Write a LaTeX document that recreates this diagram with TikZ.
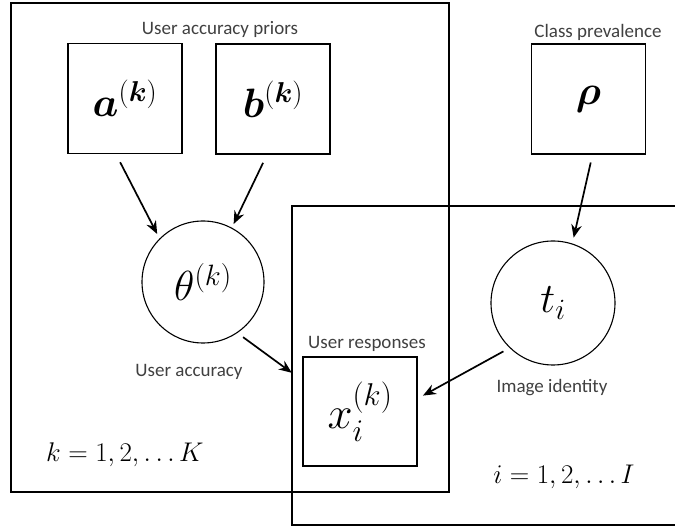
\RequirePackage{fix-cm}
\documentclass[tikz,border=0pt]{standalone}
\usepackage{amsmath,amssymb}
\usepackage{bm}
\usepackage{fontspec}
\setmainfont{Carlito}
\usepackage{tikz}
\usetikzlibrary{arrows,arrows.meta}
\definecolor{labelgray}{HTML}{404040}
\tikzset{
	plate/.style={draw,line width=1.8pt},
	prior node/.style={rectangle,draw,line width=1.4pt,minimum width=114pt,minimum height=110pt,font=\fontsize{41}{46}\selectfont},
	latent node/.style={circle,draw,line width=1.1pt,minimum size=122pt,font=\fontsize{42}{46}\selectfont},
	caption/.style={text=labelgray,font=\fontsize{19}{22}\selectfont,inner sep=0pt},
	index/.style={font=\fontsize{27}{30}\selectfont,inner sep=0pt}
}

\begin{document}
\begin{tikzpicture}[x=1pt,y=-1pt,->,>={Stealth[length=13pt,width=10.5pt]},
	  arr/.style={line width=1.7pt}]
	\useasboundingbox (0,0) rectangle (675,526);
	% plates
	\node [plate,minimum width=438pt,minimum height=489pt,inner sep=0pt] (plateK) at (230,247.5) {};
	\coordinate (plateItr) at (676,206);
	\coordinate (plateIbr) at (676,525);
	\draw [plate,-] (plateItr) -| (292,525) -- (plateIbr);
	% nodes
	\node [prior node] (a) at (125,98.5) {$\bm{a}^{(\bm{k})}$};
	\node [prior node] (b) at (273,99) {$\bm{b}^{(\bm{k})}$};
	\node [prior node] (rho) at (588.5,99) {$\bm{\rho}$};
	\node [latent node] (theta) at (203,282) {$\theta^{(k)}$};
	\node [latent node,minimum size=124pt] (t) at (553,303) {$t_i$};
	\node [prior node,minimum height=109pt,font=\fontsize{45}{50}\selectfont] (x) at (360,411.5) {$x_i^{(k)}$};
	% labels
	\node [caption] (priorlbl) at (220,29) {User accuracy priors};
	\node [caption] (prevlbl) at (598,32) {Class prevalence};
	\node [caption] (resplbl) at (367,344) {User responses};
	\node [caption] (acclbl) at (189,372) {User accuracy};
	\node [caption] (idlbl) at (552,388) {Image identity};
	\node [index] (klbl) at (125,455) {$k = 1, 2, \ldots K$};
	\node [index] (ilbl) at (564,477) {$i = 1, 2, \ldots I$};
	% edges
	\draw [arr,shorten <=9pt,shorten >=5pt] ([xshift=-9pt]a.south) -- (theta.135);
	\draw [arr,shorten <=9pt,shorten >=4pt] ([xshift=-6pt]b.south) -- (theta.62);
	\draw [arr,shorten <=8pt,shorten >=6pt] ([xshift=4pt]rho.south) -- (t.72);
	\draw [arr,shorten <=7pt,shorten >=13pt] (theta.-56) -- ([yshift=31pt]x.west);
	\draw [arr,shorten <=7pt,shorten >=6pt] (t.226) -- ([yshift=13pt]x.east);
\end{tikzpicture}
\end{document}
